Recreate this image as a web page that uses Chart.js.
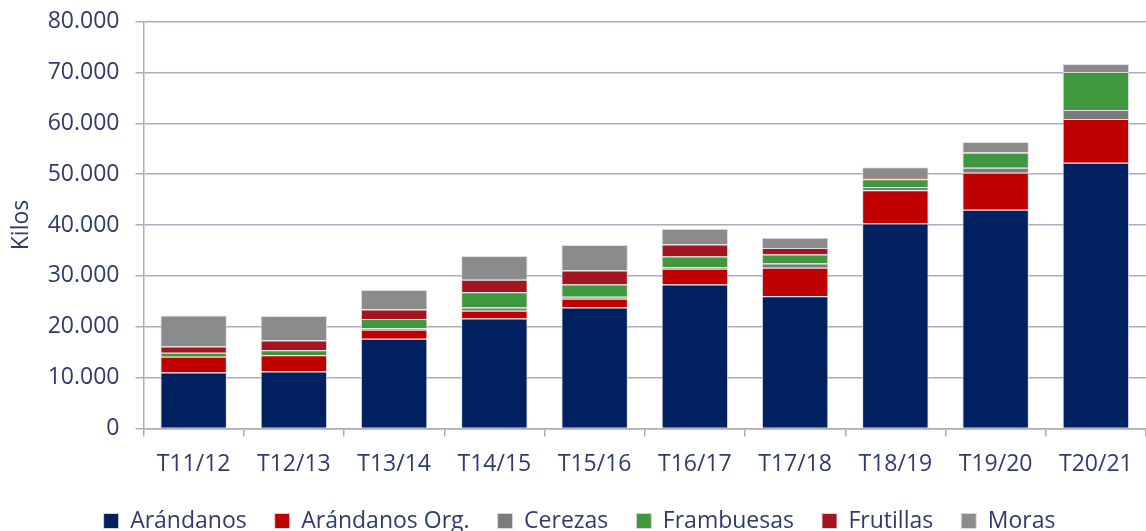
<!DOCTYPE html>
<html>
<head>
<meta charset="utf-8">
<script src="https://cdn.jsdelivr.net/npm/chart.js@4/dist/chart.umd.min.js"></script>
<style>
  html, body { margin: 0; padding: 0; background: #fff; }
  #wrap { width: 1146px; height: 531px; }
</style>
</head>
<body>
<div id="wrap"><canvas id="chart"></canvas></div>
<script>
// data (kilos)
const categories = ["T11/12", "T12/13", "T13/14", "T14/15", "T15/16", "T16/17", "T17/18", "T18/19", "T19/20", "T20/21"];
const arandanos    = [11000, 11200, 17650, 21600, 23800, 28300, 26000, 40300, 43000, 52250];
const arandanosOrg = [3100, 3200, 1750, 1550, 1700, 3100, 5600, 6550, 7250, 8600];
const cerezas      = [0, 0, 300, 650, 400, 300, 850, 600, 1000, 1750];
const frambuesas   = [800, 1000, 1800, 3000, 2400, 2100, 1750, 1550, 2950, 7450];
const frutillas    = [1200, 1900, 1900, 2450, 2750, 2350, 1300, 250, 100, 0];
const moras        = [6100, 4800, 3800, 4650, 5000, 3100, 2000, 2100, 2000, 1600];

const textColor = "#2f3b6c";
const gridColor = "#acacbf";
const font = "'Open Sans', sans-serif";
const fontSize = 23;

function fmt(v) {
  return String(v).replace(/\B(?=(\d{3})+(?!\d))/g, ".");
}

function ds(label, data, color) {
  return {
    label: label,
    data: data,
    backgroundColor: color,
    borderColor: "rgba(220,220,230,0.9)",
    borderWidth: 1,
    barPercentage: 0.663,
    categoryPercentage: 1
  };
}

new Chart(document.getElementById("chart"), {
  type: "bar",
  data: {
    labels: categories,
    datasets: [
      ds("Arándanos", arandanos, "#002060"),
      ds("Arándanos Org.", arandanosOrg, "#c00000"),
      ds("Cerezas", cerezas, "#7b7b7b"),
      ds("Frambuesas", frambuesas, "#3f983e"),
      ds("Frutillas", frutillas, "#a3151f"),
      ds("Moras", moras, "#8b8b8b")
    ]
  },
  options: {
    responsive: true,
    maintainAspectRatio: false,
    animation: false,
    layout: { padding: { top: 21.5, right: 0, bottom: -11.5, left: 13 } },
    plugins: {
      tooltip: { enabled: false },
      legend: {
        position: "bottom",
        labels: {
          color: textColor,
          font: { family: font, size: fontSize },
          boxWidth: 15,
          boxHeight: 15,
          padding: 28
        }
      }
    },
    scales: {
      x: {
        stacked: true,
        afterFit: function (scale) {
          scale.height = 53;
          scale.paddingLeft = 0;
          scale.paddingRight = 0;
        },
        grid: {
          drawOnChartArea: false,
          drawTicks: true,
          tickLength: 8,
          color: gridColor,
          lineWidth: 1.5
        },
        border: { color: gridColor, width: 1.5 },
        ticks: {
          color: textColor,
          font: { family: font, size: fontSize },
          padding: 14,
          maxRotation: 0
        }
      },
      y: {
        stacked: true,
        min: 0,
        max: 80000,
        afterFit: function (scale) {
          scale.width = 130.5;
          scale.paddingTop = 0;
          scale.paddingBottom = 0;
        },
        grid: {
          color: gridColor,
          lineWidth: 1.5,
          tickLength: 8
        },
        border: { color: gridColor, width: 1.5 },
        ticks: {
          stepSize: 10000,
          color: textColor,
          font: { family: font, size: fontSize },
          padding: 16,
          callback: function (v) { return fmt(v); }
        },
        title: {
          display: true,
          text: "Kilos",
          color: textColor,
          font: { family: font, size: fontSize },
          padding: { top: -5, bottom: 0 }
        }
      }
    }
  }
});
</script>
</body>
</html>
